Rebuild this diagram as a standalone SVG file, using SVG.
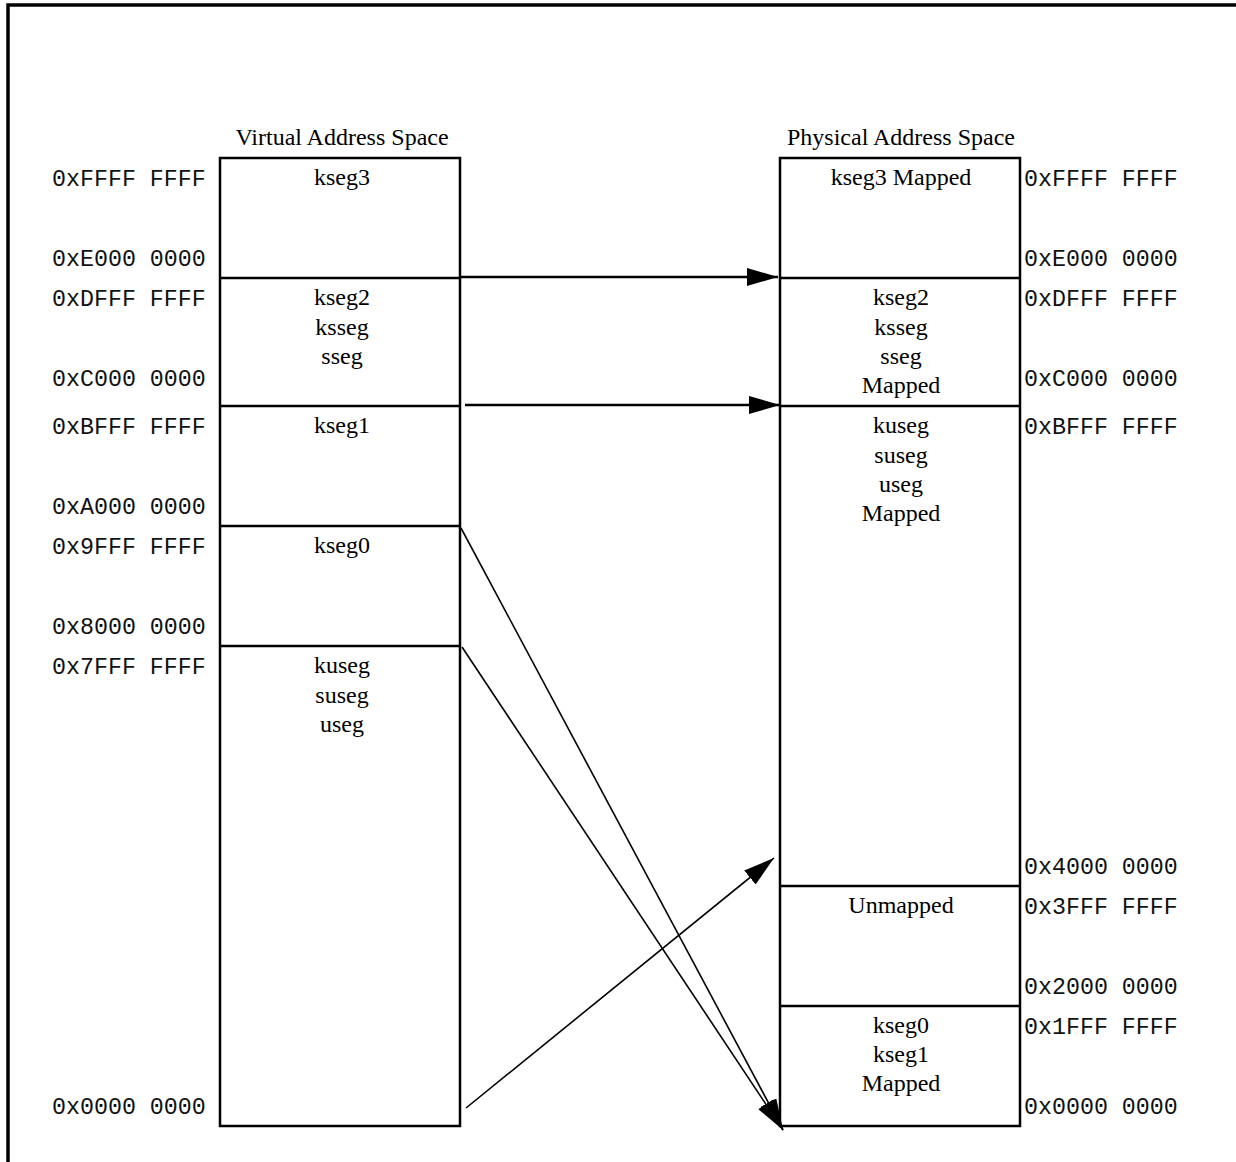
<svg xmlns="http://www.w3.org/2000/svg" width="1236" height="1162" viewBox="0 0 1236 1162">
<style>
.frame{fill:none;stroke:#000;stroke-width:3.5}
.box{fill:#fff;stroke:#000;stroke-width:2.5}
.div{stroke:#000;stroke-width:2.5}
.lbl{font-family:"Liberation Serif","Times New Roman",serif;font-size:24px;fill:#000;text-anchor:middle}
.addr{font-family:"Liberation Mono","Courier New",monospace;font-size:23.3px;fill:#111}
.conn{stroke:#000;fill:none}
</style>
<defs>
<marker id="ah" markerUnits="userSpaceOnUse" markerWidth="32" markerHeight="20" viewBox="0 0 32 20" refX="31" refY="10" orient="auto">
<path d="M0,1 L31,10 L0,19 Z" fill="#000"/>
</marker>
</defs>
<rect class="frame" x="8" y="5" width="1240" height="1170"/>
<text class="lbl" x="342" y="145">Virtual Address Space</text>
<text class="lbl" x="901" y="145">Physical Address Space</text>
<g id="virtual">
<rect class="box" x="220" y="158" width="240" height="968"/>
<line class="div" x1="220" y1="278" x2="460" y2="278"/>
<line class="div" x1="220" y1="406" x2="460" y2="406"/>
<line class="div" x1="220" y1="526" x2="460" y2="526"/>
<line class="div" x1="220" y1="646" x2="460" y2="646"/>
</g>
<g id="v-kseg3"><text class="lbl" x="342" y="185">kseg3</text></g>
<g id="v-kseg2"><text class="lbl" x="342" y="305">kseg2</text><text class="lbl" x="342" y="335">ksseg</text><text class="lbl" x="342" y="364">sseg</text></g>
<g id="v-kseg1"><text class="lbl" x="342" y="433">kseg1</text></g>
<g id="v-kseg0"><text class="lbl" x="342" y="553">kseg0</text></g>
<g id="v-kuseg"><text class="lbl" x="342" y="673">kuseg</text><text class="lbl" x="342" y="703">suseg</text><text class="lbl" x="342" y="732">useg</text></g>
<g id="physical">
<rect class="box" x="780" y="158" width="240" height="968"/>
<line class="div" x1="780" y1="278" x2="1020" y2="278"/>
<line class="div" x1="780" y1="406" x2="1020" y2="406"/>
<line class="div" x1="780" y1="886" x2="1020" y2="886"/>
<line class="div" x1="780" y1="1006" x2="1020" y2="1006"/>
</g>
<g id="p-kseg3"><text class="lbl" x="901" y="185">kseg3 Mapped</text></g>
<g id="p-kseg2"><text class="lbl" x="901" y="305">kseg2</text><text class="lbl" x="901" y="335">ksseg</text><text class="lbl" x="901" y="364">sseg</text><text class="lbl" x="901" y="393">Mapped</text></g>
<g id="p-kuseg"><text class="lbl" x="901" y="433">kuseg</text><text class="lbl" x="901" y="463">suseg</text><text class="lbl" x="901" y="492">useg</text><text class="lbl" x="901" y="521">Mapped</text></g>
<g id="p-unmapped"><text class="lbl" x="901" y="913">Unmapped</text></g>
<g id="p-kseg01"><text class="lbl" x="901" y="1033">kseg0</text><text class="lbl" x="901" y="1062">kseg1</text><text class="lbl" x="901" y="1091">Mapped</text></g>
<g id="addr-left">
<text class="addr" x="52" y="186">0xFFFF FFFF</text>
<text class="addr" x="52" y="266">0xE000 0000</text>
<text class="addr" x="52" y="306">0xDFFF FFFF</text>
<text class="addr" x="52" y="386">0xC000 0000</text>
<text class="addr" x="52" y="434">0xBFFF FFFF</text>
<text class="addr" x="52" y="514">0xA000 0000</text>
<text class="addr" x="52" y="554">0x9FFF FFFF</text>
<text class="addr" x="52" y="634">0x8000 0000</text>
<text class="addr" x="52" y="674">0x7FFF FFFF</text>
<text class="addr" x="52" y="1114">0x0000 0000</text>
</g>
<g id="addr-right">
<text class="addr" x="1024" y="186">0xFFFF FFFF</text>
<text class="addr" x="1024" y="266">0xE000 0000</text>
<text class="addr" x="1024" y="306">0xDFFF FFFF</text>
<text class="addr" x="1024" y="386">0xC000 0000</text>
<text class="addr" x="1024" y="434">0xBFFF FFFF</text>
<text class="addr" x="1024" y="874">0x4000 0000</text>
<text class="addr" x="1024" y="914">0x3FFF FFFF</text>
<text class="addr" x="1024" y="994">0x2000 0000</text>
<text class="addr" x="1024" y="1034">0x1FFF FFFF</text>
<text class="addr" x="1024" y="1114">0x0000 0000</text>
</g>
<g id="connectors">
<line class="conn" stroke-width="2.5" x1="460" y1="277" x2="778" y2="277" marker-end="url(#ah)"/>
<line class="conn" stroke-width="2.5" x1="465" y1="405" x2="780" y2="405" marker-end="url(#ah)"/>
<line class="conn" stroke-width="1.6" x1="461" y1="528" x2="783" y2="1130" marker-end="url(#ah)"/>
<line class="conn" stroke-width="1.6" x1="462" y1="647" x2="783" y2="1130" marker-end="url(#ah)"/>
<line class="conn" stroke-width="1.6" x1="466" y1="1108" x2="774" y2="858" marker-end="url(#ah)"/>
</g>
</svg>
